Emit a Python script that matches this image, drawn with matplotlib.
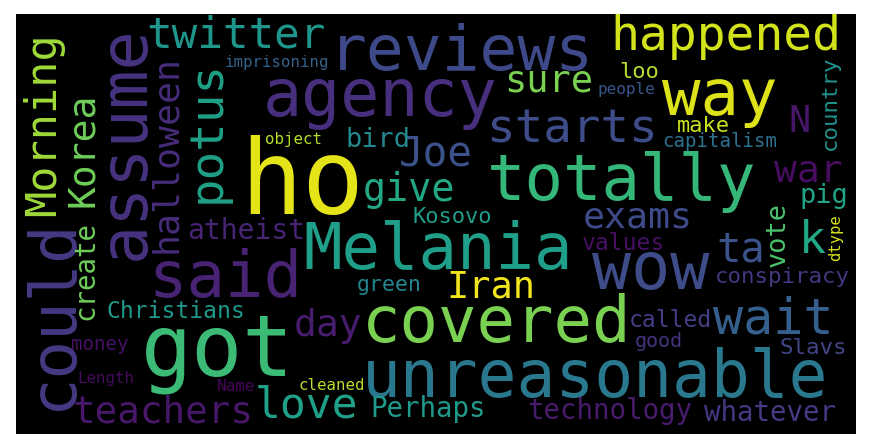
"""Word cloud of cleaned comments, redrawn with plain matplotlib text."""

import matplotlib

matplotlib.use("Agg")
import matplotlib.pyplot as plt

# words and their drawn size (pixel em size, stands for word frequency)
words = [
    "ho", "assume", "could", "agency", "reviews", "Melania", "got",
    "covered", "unreasonable", "totally", "said", "way", "wow",
    "happened", "wait", "starts", "potus", "Morning", "love", "twitter",
    "Joe", "ta", "k", "give", "Korea", "teachers", "day", "war", "sure",
    "Iran", "N", "exams", "halloween", "atheist", "bird", "pig",
    "technology", "whatever", "Perhaps", "create", "vote", "values",
    "called", "conspiracy", "Christians", "Slavs", "Kosovo", "loo",
    "make", "country", "green", "capitalism", "good", "money", "people",
    "imprisoning", "object", "cleaned", "Name", "Length", "dtype",
]
weights = [
    103, 65, 64, 65, 63, 64, 85,
    64, 64.5, 64, 64, 64, 65,
    48, 50, 47.5, 47.5, 43.5, 43, 42.5,
    41, 40.5, 45, 38.5, 38, 37.5, 38, 38, 37,
    37, 37, 36.5, 36.5, 28, 27, 27,
    27.5, 27.5, 27.5, 27.5, 27, 23,
    23, 22.5, 23, 22.5, 22, 22,
    22, 22.5, 21.5, 19, 20, 19, 16,
    15.7, 15.7, 15.8, 16, 15.7, 15.5,
]
colors = [
    "#e5e419", "#46327e", "#443a83", "#472f7d", "#3e4989", "#1f9e89", "#3bbb75",
    "#7ad151", "#2a788e", "#35b779", "#482374", "#dde318", "#3e4c8a",
    "#d2e21b", "#355f8d", "#3e4c8a", "#1fa187", "#a0da39", "#1fa088", "#1f968b",
    "#3b528b", "#3b528b", "#22a884", "#22a884", "#6ece58", "#481769", "#481c6e", "#470d60", "#7ad151",
    "#f1e51d", "#481668", "#3e4a89", "#472c7a", "#482475", "#23898e", "#20a486",
    "#481b6d", "#443983", "#1f9a8a", "#6ece58", "#4ac16d", "#471063",
    "#433e85", "#453781", "#1f978b", "#404688", "#1f9e89", "#b5de2b",
    "#cae11f", "#21918c", "#25858e", "#2c718e", "#46337f", "#471164", "#39568c",
    "#33638d", "#b5de2b", "#b8de29", "#450559", "#460b5e", "#d8e219",
]

# placement in screen pixels: horizontal -> (left, baseline), vertical -> (baseline, bottom)
layout = {
    "ho": (248, 214, 0), "assume": (144, 255, 90), "could": (71, 405, 90),
    "agency": (268, 116, 0), "reviews": (334, 70, 0), "Melania": (308, 269, 0),
    "got": (148, 376, 0), "covered": (367, 342, 0), "unreasonable": (367, 397, 0),
    "totally": (492, 200, 0), "said": (153, 297, 0), "way": (667, 115, 0),
    "wow": (597, 289, 0), "happened": (614, 50, 0), "wait": (717, 334, 0),
    "starts": (490, 143, 0), "potus": (220, 199, 90), "Morning": (55, 213, 90),
    "love": (258, 417, 0), "twitter": (150, 48, 0), "Joe": (402, 166, 0),
    "ta": (720, 262, 0), "k": (802, 253, 0), "give": (366, 201, 0),
    "Korea": (93, 204, 90), "teachers": (76, 422, 0), "day": (297, 336, 0),
    "war": (777, 182, 0), "sure": (507, 92, 0), "Iran": (449, 297, 0),
    "N": (791, 132, 0), "exams": (586, 228, 0), "halloween": (176, 250, 90),
    "atheist": (189, 239, 0), "bird": (348, 147, 0), "pig": (802, 203, 0),
    "technology": (529, 419, 0), "whatever": (706, 421, 0), "Perhaps": (373, 417, 0),
    "create": (93, 318, 90), "vote": (785, 265, 90), "values": (584, 250, 0),
    "called": (631, 327, 0), "conspiracy": (717, 283, 0), "Christians": (108, 318, 0),
    "Slavs": (781, 354, 0), "Kosovo": (414, 223, 0), "loo": (621, 78, 0),
    "make": (679, 132, 0), "country": (836, 148, 90), "green": (358, 291, 0),
    "capitalism": (664, 147, 0), "good": (636, 347, 0), "money": (73, 350, 0),
    "people": (599, 94, 0), "imprisoning": (226, 67, 0), "object": (266, 144, 0),
    "cleaned": (300, 390, 0), "Name": (218, 391, 0), "Length": (79, 383, 0),
    "dtype": (840, 260, 90),
}

DPI = 100
W, H = 869, 448
LEFT, TOP, RIGHT, BOTTOM = 16, 14, 856, 434

fig = plt.figure(figsize=(W / DPI, H / DPI), dpi=DPI)
ax = fig.add_axes([LEFT / W, 1 - BOTTOM / H, (RIGHT - LEFT) / W, (BOTTOM - TOP) / H])
ax.set_facecolor("black")
ax.set_xlim(LEFT, RIGHT)
ax.set_ylim(BOTTOM, TOP)
ax.set_xticks([])
ax.set_yticks([])
for spine in ax.spines.values():
    spine.set_visible(False)

for word, size, color in zip(words, weights, colors):
    x, y, rot = layout[word]
    pad = 0.08 * size  # glyph side bearing
    if rot:
        y += pad
    else:
        x -= pad
    ax.text(
        x, y, word,
        fontsize=size * 72 / DPI,
        family="DejaVu Sans Mono",
        color=color,
        rotation=rot,
        rotation_mode="anchor",
        ha="left",
        va="baseline",
        clip_on=True,
    )

fig.savefig("out.png", dpi=DPI)
